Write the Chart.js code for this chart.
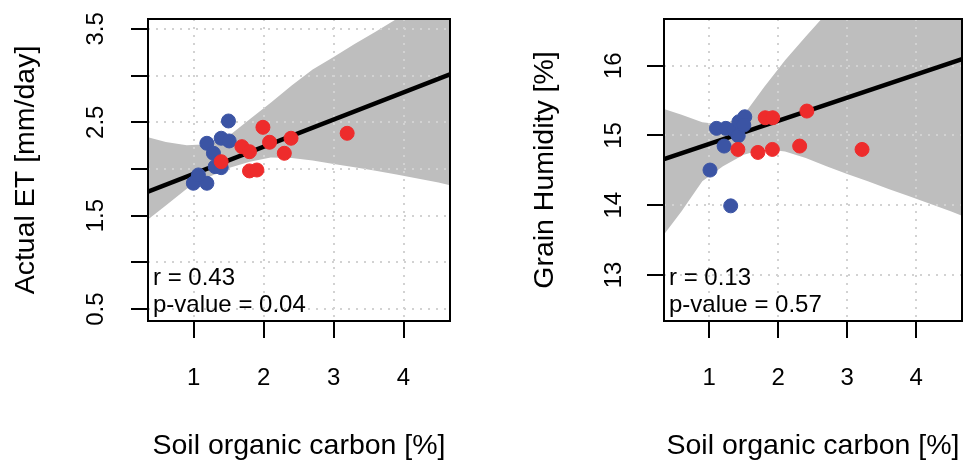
<!DOCTYPE html>
<html>
<head>
<meta charset="utf-8">
<script src="https://cdn.jsdelivr.net/npm/chart.js@4/dist/chart.umd.min.js"></script>
<style>
  html, body { margin: 0; padding: 0; background: #ffffff; }
  #wrap { position: relative; width: 970px; height: 467px; overflow: hidden; }
  #wrap canvas { position: absolute; top: 0; }
</style>
</head>
<body>
<div id="wrap">
  <canvas id="etChart" width="485" height="467" style="left:0px"></canvas>
  <canvas id="humChart" width="485" height="467" style="left:485px"></canvas>
</div>
<script>
// ---- Panel A: actual evapotranspiration vs soil organic carbon ----
const etBlueSoc = [1.496, 1.187, 1.392, 1.506, 1.281, 1.306, 1.392, 0.994, 1.187, 1.066];
const etBlueVal = [2.514, 2.275, 2.329, 2.300, 2.168, 2.025, 2.014, 1.847, 1.847, 1.936];
const etRedSoc  = [1.989, 1.688, 1.797, 2.084, 2.391, 2.295, 3.194, 1.797, 1.903, 1.392];
const etRedVal  = [2.446, 2.239, 2.185, 2.286, 2.329, 2.168, 2.382, 1.979, 1.989, 2.078];

// ---- Panel B: grain humidity vs soil organic carbon ----
const humBlueSoc = [1.012, 1.312, 1.216, 1.106, 1.241, 1.359, 1.431, 1.516, 1.421, 1.502];
const humBlueVal = [14.504, 13.991, 14.848, 15.102, 15.102, 15.077, 15.197, 15.268, 14.996, 15.149];
const humRedSoc  = [1.416, 1.706, 1.916, 2.312, 3.216, 2.416, 1.812, 1.921];
const humRedVal  = [14.80, 14.757, 14.80, 14.848, 14.80, 15.35, 15.254, 15.254];

// Fitted regression lines (value at each end of the x range)
const fitSoc   = [0.345, 4.665];
const etFitVal = [1.757, 3.014];
const humFitVal = [14.661, 16.096];

// Confidence bands around the fits
const bandSoc    = [0.345, 0.6, 0.9, 1.2, 1.5, 1.8, 2.1, 2.4, 2.7, 3.0, 3.3, 3.6, 3.9, 4.2, 4.5, 4.665];
const etBandHigh = [2.34, 2.29, 2.255, 2.266, 2.354, 2.532, 2.71, 2.894, 3.064, 3.199, 3.337, 3.47, 3.606, 3.74, 3.875, 3.95];
const etBandLow  = [1.46, 1.61, 1.787, 1.91, 2.01, 2.078, 2.124, 2.117, 2.09, 2.053, 2.018, 1.982, 1.94, 1.897, 1.854, 1.825];
const humBandHigh = [15.38, 15.296, 15.19, 15.153, 15.293, 15.70, 16.08, 16.42, 16.75, 17.1, 17.45, 17.8, 18.15, 18.5, 18.85, 19.05];
const humBandLow  = [13.58, 13.914, 14.343, 14.557, 14.724, 14.805, 14.771, 14.677, 14.557, 14.449, 14.343, 14.234, 14.129, 14.02, 13.914, 13.85];

// Axis tick labels
const socTickLabels = ['1', '2', '3', '4'];
const etTickLabels  = ['0.5', '1.5', '2.5', '3.5'];
const humTickLabels = ['13', '14', '15', '16'];

// Correlation annotations
const etStats  = ['r = 0.43', 'p-value = 0.04'];
const humStats = ['r = 0.13', 'p-value = 0.57'];

const FONT = "'Liberation Sans', Arial, Helvetica, sans-serif";
const RED = '#EE2C2C';
const BLUE = '#3B54A4';
const BAND = '#BEBEBE';

function pairs(xs, ys) {
  return xs.map((x, i) => ({ x: x, y: ys[i] }));
}

// Rotated y tick labels, statistics text and the surrounding frame
function decorations(yLabels, labelOffset, stats) {
  return {
    id: 'panelDecor',
    afterDraw(chart) {
      const { ctx, chartArea } = chart;
      const yScale = chart.scales.y;
      ctx.save();
      ctx.fillStyle = '#000';
      ctx.font = '24px ' + FONT;
      ctx.textAlign = 'center';
      ctx.textBaseline = 'alphabetic';
      yLabels.forEach(lab => {
        const py = yScale.getPixelForValue(Number(lab));
        ctx.save();
        ctx.translate(chartArea.left - labelOffset, py);
        ctx.rotate(-Math.PI / 2);
        ctx.fillText(lab, 0, 0);
        ctx.restore();
      });
      ctx.textAlign = 'left';
      ctx.fillText(stats[0], chartArea.left + 5, chartArea.bottom - 36);
      ctx.fillText(stats[1], chartArea.left + 5, chartArea.bottom - 9.5);
      ctx.strokeStyle = '#000';
      ctx.lineWidth = 2;
      ctx.strokeRect(chartArea.left, chartArea.top, chartArea.right - chartArea.left, chartArea.bottom - chartArea.top);
      ctx.restore();
    }
  };
}

function buildPanel(canvasId, p) {
  const gridStyle = {
    color: '#D2D2D2',
    lineWidth: 2,
    drawTicks: true,
    tickLength: 17,
    tickColor: '#000',
    tickWidth: 2,
    tickBorderDash: []
  };
  return new Chart(document.getElementById(canvasId), {
    type: 'scatter',
    data: {
      datasets: [
        { data: pairs(p.redX, p.redY), backgroundColor: RED, borderColor: RED,
          borderWidth: 1, pointRadius: 7, order: 0 },
        { data: pairs(p.blueX, p.blueY), backgroundColor: BLUE, borderColor: BLUE,
          borderWidth: 1, pointRadius: 7, order: 1 },
        { type: 'line', data: pairs(fitSoc, p.fitY), borderColor: '#000', borderWidth: 4.5,
          pointRadius: 0, fill: false, tension: 0, order: 2 },
        { type: 'line', data: pairs(bandSoc, p.bandHigh), borderColor: 'rgba(0,0,0,0)', borderWidth: 0,
          backgroundColor: BAND, pointRadius: 0, fill: '+1', tension: 0, order: 3 },
        { type: 'line', data: pairs(bandSoc, p.bandLow), borderColor: 'rgba(0,0,0,0)', borderWidth: 0,
          pointRadius: 0, fill: false, tension: 0, order: 4 }
      ]
    },
    options: {
      responsive: false,
      animation: false,
      devicePixelRatio: 1,
      events: [],
      layout: { padding: { left: 0, top: 19, right: p.padRight, bottom: 0 } },
      plugins: {
        legend: { display: false },
        tooltip: { enabled: false },
        filler: { drawTime: 'beforeDraw' }
      },
      scales: {
        x: {
          type: 'linear',
          min: 0.345,
          max: 4.665,
          afterFit: s => { s.height = 146; },
          afterBuildTicks: s => { s.ticks = socTickLabels.map(t => ({ value: Number(t) })); },
          ticks: {
            autoSkip: false, maxRotation: 0, includeBounds: false,
            color: '#000', padding: 26,
            font: { family: FONT, size: 24 },
            callback: v => socTickLabels.find(t => Number(t) === v) || ''
          },
          grid: gridStyle,
          border: { display: false, dash: [2, 6] },
          title: {
            display: true, text: 'Soil organic carbon [%]', color: '#000',
            font: { family: FONT, size: 28.5 }, padding: { top: 0, bottom: 4 }
          }
        },
        y: {
          type: 'linear',
          min: p.yMin,
          max: p.yMax,
          afterFit: s => { s.width = p.yWidth; },
          ticks: { display: false, stepSize: p.yStep, includeBounds: false },
          grid: gridStyle,
          border: { display: false, dash: [2, 6] },
          title: {
            display: true, text: p.yTitle, color: '#000',
            font: { family: FONT, size: 28.5 }, padding: { top: p.titlePad, bottom: 0 }
          }
        }
      }
    },
    plugins: [decorations(p.yLabels, p.labelOffset, p.stats)]
  });
}

buildPanel('etChart', {
  redX: etRedSoc, redY: etRedVal, blueX: etBlueSoc, blueY: etBlueVal,
  fitY: etFitVal, bandHigh: etBandHigh, bandLow: etBandLow,
  yMin: 0.372, yMax: 3.606, yStep: 0.5, yWidth: 148, padRight: 35,
  yTitle: 'Actual ET [mm/day]', titlePad: 9,
  yLabels: etTickLabels, labelOffset: 45, stats: etStats
});

buildPanel('humChart', {
  redX: humRedSoc, redY: humRedVal, blueX: humBlueSoc, blueY: humBlueVal,
  fitY: humFitVal, bandHigh: humBandHigh, bandLow: humBandLow,
  yMin: 12.34, yMax: 16.67, yStep: 1, yWidth: 179, padRight: 3,
  yTitle: 'Grain Humidity [%]', titlePad: 43,
  yLabels: humTickLabels, labelOffset: 43, stats: humStats
});
</script>
</body>
</html>
